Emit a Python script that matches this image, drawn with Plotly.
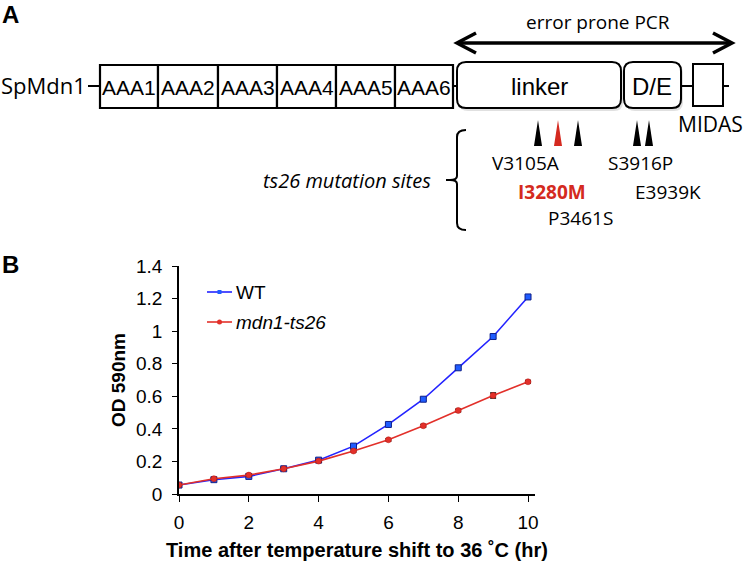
import plotly.graph_objects as go

# ---------------- Panel B data ----------------
hours = [0, 1, 2, 3, 4, 5, 6, 7, 8, 9, 10]
wt_od = [0.055, 0.088, 0.108, 0.155, 0.208, 0.294, 0.427, 0.582, 0.775, 0.967, 1.21]
wt_err = [0.005, 0.005, 0.005, 0.005, 0.006, 0.008, 0.008, 0.008, 0.008, 0.010, 0.012]
ts26_od = [0.055, 0.094, 0.116, 0.155, 0.202, 0.264, 0.333, 0.419, 0.513, 0.605, 0.689]
ts26_err = [0.005, 0.005, 0.005, 0.005, 0.006, 0.006, 0.007, 0.008, 0.008, 0.015, 0.008]
series_names = ["WT", "mdn1-ts26"]
y_ticks = [0, 0.2, 0.4, 0.6, 0.8, 1.0, 1.2, 1.4]
x_ticks = [0, 2, 4, 6, 8, 10]

# ---------------- Panel A diagram content ----------------
aaa_labels = ["AAA1", "AAA2", "AAA3", "AAA4", "AAA5", "AAA6"]
aaa_edges = [100, 158, 218, 277, 336, 395, 453]
mut_x = [538, 558, 578, 637, 649]
mut_colors = ["black", "#d42a20", "black", "black", "black"]
mut_labels = ["V3105A", "I3280M", "P3461S", "S3916P", "E3939K"]
mut_label_pos = [(525, 163), (552, 192), (580, 218), (640, 163), (668, 192)]

W, H = 746, 561
BLUE = "#2323ff"
RED = "#e2302a"
SANS = "Liberation Sans, Arial, sans-serif"
HUM = "Open Sans, sans-serif"

fig = go.Figure()

wt_marker = dict(symbol="square", size=6, color="#1f5cff", line=dict(color="#10208a", width=1))
ts_marker = dict(symbol="circle", size=6, color=RED, line=dict(color="#b01810", width=0.5))

# main chart
fig.add_trace(go.Scatter(
    x=hours, y=wt_od, name=series_names[0], mode="lines+markers",
    line=dict(color=BLUE, width=1.6), marker=wt_marker,
    error_y=dict(type="data", array=wt_err, color="black", thickness=1.5, width=3),
    showlegend=False, xaxis="x", yaxis="y"))
fig.add_trace(go.Scatter(
    x=hours, y=ts26_od, name=series_names[1], mode="lines+markers",
    line=dict(color=RED, width=1.6), marker=ts_marker,
    error_y=dict(type="data", array=ts26_err, color="black", thickness=1.5, width=3),
    showlegend=False, xaxis="x", yaxis="y"))

# manual legend on pixel overlay
fig.add_trace(go.Scatter(x=[207, 232], y=[292, 292], mode="lines", line=dict(color=BLUE, width=1.6),
                         showlegend=False, xaxis="x2", yaxis="y2", hoverinfo="skip"))
fig.add_trace(go.Scatter(x=[219.5], y=[292], mode="markers",
                         marker=dict(symbol="square", size=4, color="#1f5cff"),
                         showlegend=False, xaxis="x2", yaxis="y2", hoverinfo="skip"))
fig.add_trace(go.Scatter(x=[207, 232], y=[322, 322], mode="lines", line=dict(color=RED, width=1.6),
                         showlegend=False, xaxis="x2", yaxis="y2", hoverinfo="skip"))
fig.add_trace(go.Scatter(x=[219.5], y=[322], mode="markers", marker=dict(symbol="circle", size=5, color=RED),
                         showlegend=False, xaxis="x2", yaxis="y2", hoverinfo="skip"))

shapes = []
annots = []


def rrect(x0, x1, y0, y1, r):
    return (f"M {x0+r},{y0} L {x1-r},{y0} Q {x1},{y0} {x1},{y0+r} L {x1},{y1-r} "
            f"Q {x1},{y1} {x1-r},{y1} L {x0+r},{y1} Q {x0},{y1} {x0},{y1-r} "
            f"L {x0},{y0+r} Q {x0},{y0} {x0+r},{y0} Z")


def pshape(**kw):
    d = dict(xref="x2", yref="y2", layer="above")
    d.update(kw)
    shapes.append(d)


def ptext(x, y, text, size, font=HUM, color="black", xanchor="center", **kw):
    annots.append(dict(x=x, y=y, xref="x2", yref="y2", text=text, showarrow=False,
                       xanchor=xanchor, yanchor="middle",
                       font=dict(family=font, size=size, color=color), **kw))


# backbone connector lines
for (a, b) in [(88, 100), (453, 457), (681, 693), (723, 729)]:
    pshape(type="line", x0=a, x1=b, y0=86, y1=86, line=dict(color="black", width=2))

# AAA boxes
for i, lab in enumerate(aaa_labels):
    x0, x1 = aaa_edges[i], aaa_edges[i + 1]
    pshape(type="rect", x0=x0, x1=x1, y0=65, y1=108, line=dict(color="black", width=2.2), fillcolor="white")
    ptext((x0 + x1) / 2, 87, lab, 21, font=SANS)

# shadows + rounded boxes
for (x0, x1) in [(457, 621), (624, 681)]:
    pshape(type="path", path=rrect(x0 + 2, x1 + 2, 64, 111, 9), line=dict(width=0),
           fillcolor="rgba(0,0,0,0.12)")
    pshape(type="path", path=rrect(x0, x1, 62, 108, 9), line=dict(color="black", width=2), fillcolor="white")
ptext(539, 86, "linker", 24, font=SANS)
ptext(652, 86, "D/E", 24, font=SANS)
# MIDAS box
pshape(type="rect", x0=693, x1=723, y0=64, y1=106, line=dict(color="black", width=2), fillcolor="white")
ptext(710, 124, "MIDAS", 21)

ptext(88, 85, "SpMdn1", 22, xanchor="right")

# error-prone PCR double arrow
pshape(type="line", x0=458, x1=731, y0=43, y1=43, line=dict(color="black", width=3.5))
pshape(type="path", path="M 476,33 L 457,43 L 476,53", line=dict(color="black", width=3.5))
pshape(type="path", path="M 713,33 L 732,43 L 713,53", line=dict(color="black", width=3.5))
ptext(598, 22, "error prone PCR", 19)

# mutation arrowheads
for xm, c in zip(mut_x, mut_colors):
    pshape(type="path", path=f"M {xm-4},146 L {xm},120 L {xm+4},146 Z", line=dict(width=0), fillcolor=c)
for lab, (xl, yl), c in zip(mut_labels, mut_label_pos, mut_colors):
    if c != "black":
        ptext(xl, yl, f"<b>{lab}</b>", 19, color=c)
    else:
        ptext(xl, yl, lab, 19)

# bracket
pshape(type="path",
       path="M 466,130 Q 457,130 457,137 L 457,176 Q 457,180 450,180 Q 457,180 457,184 L 457,223 Q 457,230 466,230",
       line=dict(color="black", width=2))
pshape(type="line", x0=446, x1=452, y0=180, y1=180, line=dict(color="black", width=2))
ptext(433, 180, "<i>ts26 mutation sites</i>", 20, xanchor="right")

# panel letters
ptext(0, 14, "<b>A</b>", 24, font=SANS, xanchor="left")
ptext(0, 264, "<b>B</b>", 24, font=SANS, xanchor="left")

# legend text
ptext(234, 292, series_names[0], 19, font=SANS, xanchor="left")
ptext(234, 322, f"<i>{series_names[1]}</i>", 19, font=SANS, xanchor="left")

# axis titles
ptext(118, 380, "<b>OD 590nm</b>", 19, font=SANS, textangle=-90)
ptext(357, 550, "<b>Time after temperature shift to 36 ˚C (hr)</b>", 20, font=SANS)

x0p, x1p = 179, 535
ybot, ytop = 494, 266

fig.update_layout(
    width=W, height=H, autosize=False,
    margin=dict(l=0, r=0, t=0, b=0, pad=0),
    paper_bgcolor="white", plot_bgcolor="rgba(0,0,0,0)",
    shapes=shapes, annotations=annots,
    xaxis=dict(domain=[x0p / W, x1p / W], range=[0, 10.2], anchor="y", automargin=False,
               tickvals=x_ticks, ticks="outside", ticklen=6, tickwidth=1.3, tickcolor="black",
               showline=True, linecolor="black", linewidth=1.5, showgrid=False, zeroline=False,
               tickfont=dict(family=SANS, size=19, color="black"), ticklabelstandoff=4),
    yaxis=dict(domain=[(H - ybot) / H, (H - ytop) / H], range=[0, 1.4], anchor="x", automargin=False,
               tickvals=y_ticks, ticks="outside", ticklen=5, tickwidth=1.3, tickcolor="black",
               showline=True, linecolor="black", linewidth=1.5, showgrid=False, zeroline=False,
               tickfont=dict(family=SANS, size=19, color="black"), ticklabelstandoff=6),
    xaxis2=dict(domain=[0, 1], range=[0, W], anchor="y2", visible=False, fixedrange=True, automargin=False),
    yaxis2=dict(domain=[0, 1], range=[H, 0], anchor="x2", visible=False, fixedrange=True, automargin=False),
)

fig.write_html(
    "out.html",
    config={"responsive": False, "displayModeBar": False},
    post_script="document.body.style.margin='0';document.body.style.overflow='hidden';"
                "document.documentElement.style.overflow='hidden';",
)
